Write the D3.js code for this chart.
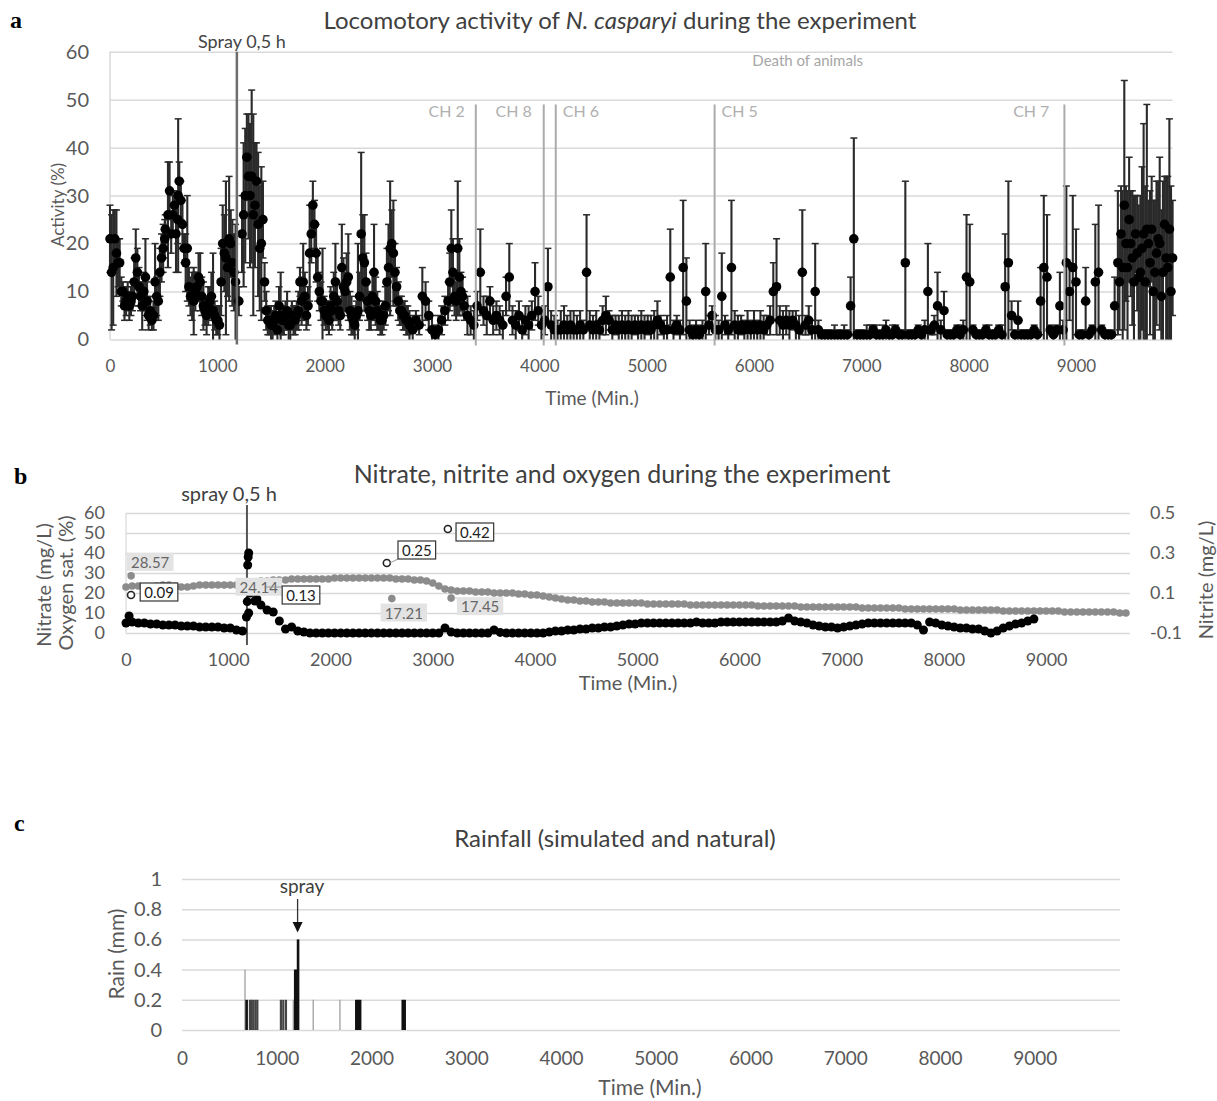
<!DOCTYPE html>
<html>
<head>
<meta charset="utf-8">
<script src="https://cdn.jsdelivr.net/npm/d3@7"></script>
<style>
  body { margin: 0; background: #fff; }
  text { font-family: Lato, "Open Sans", sans-serif; }
</style>
</head>
<body>
<div id="fig"></div>
<script>
// ---------- panel a : locomotory activity (mean + SD), sampled every 30 min ----------
const actStep = 30;
const actMean = [
  21, 15, 18, 16, 10, 8, 7, 9, 17, 11,
  7, 13, 5, 4, 12, 8, 17, 21, 26, 22,
  28, 25, 29, 19, 19, 9, 8, 11, 12, 7,
  5, 8, 6, 4, 3, 20, 17, 21, 16, 12,
  8, 22, 30, 34, 34, 28, 24, 20, 12, 4,
  3, 4, 2, 5, 4, 6, 3, 4, 5, 12,
  12, 5, 18, 28, 18, 10, 8, 5, 4, 6,
  12, 6, 15, 10, 13, 5, 3, 6, 22, 16,
  8, 5, 14, 6, 4, 5, 12, 19, 18, 11,
  6, 5, 4, 3, 2, 4, 3, 9, 8, 5,
  2, 1, 2, 4, 6, 8, 19, 9, 19, 10,
  7, 5, 4, 3, 7, 14, 6, 5, 8, 4,
  5, 4, 3, 9, 13, 4, 3, 5, 2, 4,
  3, 5, 10, 6, 3, 4, 11, 3, 2, 2,
  2, 3, 2, 3, 2, 2, 3, 2, 14, 3,
  2, 3, 2, 4, 5, 4, 2, 3, 2, 3,
  2, 3, 2, 3, 2, 3, 2, 3, 2, 3,
  4, 3, 2, 2, 13, 2, 3, 2, 15, 8,
  2, 1, 2, 1, 2, 10, 3, 5, 2, 2,
  9, 3, 2, 15, 3, 2, 3, 2, 3, 2,
  3, 2, 3, 2, 3, 4, 10, 11, 4, 3,
  4, 3, 4, 3, 2, 14, 3, 4, 2, 10,
  2, 1, 1, 1, 1, 1, 1, 1, 1, 1,
  7, 21, 1, 1, 1, 1, 1, 2, 1, 1,
  1, 2, 1, 1, 2, 1, 1, 16, 1, 1,
  1, 2, 1, 2, 10, 2, 3, 7, 2, 6,
  1, 1, 1, 2, 1, 2, 13, 12, 2, 1,
  1, 1, 2, 1, 1, 1, 2, 1, 11, 16,
  5, 1, 4, 1, 1, 1, 1, 2, 1, 8,
  15, 13, 2, 1, 2, 7, 2, 16, 10, 15,
  12, 1, 1, 8, 1, 2, 12, 14, 2, 1,
  1, 1, 7, 16, 22, 28, 15, 20, 12, 18,
  14, 22, 23, 16, 10, 18, 20, 14, 17, 23, 17
];
const actErr = [
  7, 12, 9, 5, 2, 3, 3, 3, 6, 4,
  5, 8, 3, 2, 8, 4, 5, 4, 11, 4,
  3, 5, 4, 3, 11, 4, 7, 3, 6, 5,
  4, 3, 12, 3, 4, 8, 16, 13, 9, 12,
  3, 8, 14, 13, 18, 13, 15, 16, 4, 3,
  4, 3, 3, 9, 3, 4, 3, 3, 3, 3,
  8, 3, 10, 5, 6, 4, 11, 3, 3, 4,
  8, 3, 9, 4, 9, 4, 3, 14, 17, 10,
  4, 3, 10, 4, 3, 3, 7, 14, 11, 4,
  3, 3, 3, 3, 3, 2, 2, 6, 4, 3,
  3, 2, 3, 3, 3, 4, 8, 4, 14, 4,
  3, 4, 3, 3, 3, 9, 3, 4, 3, 3,
  3, 3, 3, 4, 7, 3, 3, 3, 3, 3,
  4, 3, 6, 3, 3, 3, 8, 3, 3, 2,
  4, 4, 3, 3, 4, 3, 3, 2, 12, 3,
  3, 3, 2, 3, 4, 2, 3, 2, 3, 3,
  3, 3, 3, 2, 3, 3, 3, 2, 3, 3,
  4, 2, 2, 3, 10, 2, 2, 2, 14, 9,
  2, 2, 2, 2, 2, 10, 2, 2, 3, 2,
  9, 2, 2, 14, 3, 3, 2, 2, 3, 2,
  3, 2, 3, 3, 2, 3, 6, 10, 3, 3,
  3, 3, 2, 3, 3, 13, 2, 3, 2, 10,
  2, 1, 1, 1, 1, 2, 1, 1, 2, 1,
  6, 21, 1, 1, 1, 2, 2, 1, 2, 1,
  2, 2, 1, 2, 1, 1, 1, 17, 1, 1,
  1, 1, 1, 2, 10, 1, 2, 7, 2, 4,
  1, 1, 1, 1, 2, 2, 13, 12, 1, 1,
  1, 1, 1, 2, 1, 1, 1, 2, 11, 17,
  3, 1, 4, 1, 1, 1, 1, 1, 1, 7,
  15, 13, 1, 1, 1, 7, 2, 16, 6, 15,
  11, 1, 1, 7, 1, 1, 12, 14, 1, 1,
  1, 1, 6, 15, 10, 26, 16, 11, 18, 12,
  16, 23, 26, 15, 19, 15, 18, 19, 17, 23, 12
];
// extra readings in the busy stretches
const actExtraT    = [15, 45, 75, 105, 135, 165, 195, 225, 255, 285, 315, 345, 375, 405, 435, 465, 495, 515, 555, 585, 615, 635, 645,
                      675, 705, 735, 765, 795, 825, 855, 885, 915, 945, 975, 1005, 1035, 1065, 1095, 1125, 1155,
                      1245, 1275, 1305, 1335, 1365, 1395, 1425, 1455, 1485, 1515, 1545, 1575, 1605, 1635, 1665, 1695, 1725, 1755, 1785,
                      1815, 1845, 1875, 1905, 1935, 1965, 1995, 2025, 2055, 2085, 2115, 2145, 2175, 2205, 2235, 2265, 2295, 2325, 2355,
                      2385, 2415, 2445, 2475, 2505, 2535, 2565, 2595, 2625, 2655, 2685, 2715, 2745, 2775, 3165, 3195, 3225, 3255, 3285,
                      9405, 9435, 9465, 9495, 9525, 9555, 9585, 9615, 9645, 9675, 9705, 9735, 9765, 9795, 9825, 9855, 9885];
const actExtraMean = [14, 21, 16, 10, 7, 9, 8, 12, 14, 9, 10, 8, 6, 5, 9, 14, 19, 23, 31, 26, 22, 30, 33,
                      24, 16, 11, 9, 10, 13, 9, 6, 7, 9, 5, 4, 12, 18, 15, 20, 14,
                      26, 38, 30, 26, 33, 19, 25, 6, 4, 3, 5, 7, 4, 5, 3, 5, 4, 6, 8,
                      9, 7, 22, 24, 13, 8, 6, 5, 7, 9, 8, 5, 11, 12, 6, 4, 5, 9, 17,
                      12, 6, 9, 8, 5, 4, 7, 15, 20, 14, 8, 6, 5, 4, 12, 14, 8, 13, 9,
                      12, 15, 20, 25, 17, 22, 13, 19, 12, 20, 23, 14, 21, 9, 24, 15, 10];
const actExtraErr  = [12, 6, 5, 3, 3, 3, 3, 5, 5, 3, 4, 4, 3, 3, 4, 5, 5, 3, 6, 4, 8, 16, 4,
                      5, 6, 4, 5, 4, 5, 4, 3, 4, 5, 3, 3, 7, 8, 6, 7, 8,
                      15, 9, 15, 21, 8, 13, 8, 4, 3, 3, 3, 4, 3, 3, 3, 3, 3, 4, 5,
                      5, 4, 6, 5, 5, 4, 3, 3, 4, 5, 4, 3, 6, 6, 4, 3, 3, 5, 9,
                      6, 4, 5, 5, 3, 3, 4, 9, 7, 6, 4, 3, 3, 3, 6, 7, 4, 8, 4,
                      10, 16, 12, 13, 14, 8, 15, 17, 20, 9, 11, 15, 12, 18, 10, 19, 22];
const actYTicks = [0, 10, 20, 30, 40, 50, 60];
const timeTicks = [0, 1000, 2000, 3000, 4000, 5000, 6000, 7000, 8000, 9000];

const sprayT = 1182;
const chT = [3408, 4041, 4153, 5633, 8892];
const chLabel = ["CH 2", "CH 8", "CH 6", "CH 5", "CH 7"];

// ---------- panel b : nitrate, nitrite, oxygen ----------
const oxyStep = 60;
const oxyVal = [
  23, 23.5, 23.5, 23, 23, 23.5, 24, 24, 23.5, 23, 23, 23.5, 24, 24, 24, 24, 24, 24, 24, 24,
  24, 25, 26, 26, 26.5, 26.5, 26.5, 27, 27, 27, 27, 27, 27, 27, 27.5, 27.5, 27.5, 27.5, 27.5, 27.5,
  27.5, 27.5, 27.5, 27.5, 27, 27, 27, 26.5, 26.5, 26, 25, 23.5, 22, 21.5, 21, 21, 21, 20.5, 20.5, 20.5,
  20, 20, 20, 20, 19.5, 19.5, 19, 19, 18.5, 18, 17.5, 17, 16.5, 16.5, 16, 16, 15.5, 15.5, 15.5, 15,
  15, 15, 15, 15, 15, 14.5, 14.5, 14.5, 14.5, 14.5, 14.5, 14.5, 14, 14, 14, 14, 14, 14, 14, 14,
  14, 14, 14, 13.5, 13.5, 13.5, 13.5, 13.5, 13.5, 13.5, 13, 13, 13, 13, 13, 13, 13, 13, 13, 13,
  12.5, 12.5, 12.5, 12.5, 12.5, 12.5, 12.5, 12, 12, 12, 12, 12, 12, 12, 12, 12, 11.5, 11.5, 11.5, 11.5,
  11.5, 11.5, 11.5, 11, 11, 11, 11, 11, 11, 11, 11, 11, 11, 10.5, 10.5, 10.5, 10.5, 10.5, 10.5, 10.5,
  10.5, 10.5, 10, 10
];
const nitStep = 60;
const nitVal = [
  5, 5.5, 5, 5, 4.5, 4.5, 4, 4, 4, 3.5, 3.5, 3.5, 3, 3, 3, 3, 2.5, 2.5, 1.5, 1,
  10, 16, 14, 11.5, 10.5, 6, 2, 3, 1, 0.5, 0, 0, 0, 0, 0, 0, 0, 0, 0, 0,
  0, 0, 0, 0, 0, 0, 0, 0, 0, 0, 0, 0, 2.5, 0.5, 0, 0, 0, 0, 0, 0,
  1.5, 0.3, 0, 0, 0, 0, 0, 0, 0, 0.5, 1, 1, 1.5, 1.5, 2, 2, 2.5, 2.5, 3, 3,
  3.5, 4, 4.5, 4.5, 5, 5, 5, 5, 5, 5, 5, 5, 5, 5.5, 5, 5, 5, 5.5, 5.5, 5.5,
  5.5, 5.5, 5.5, 5.5, 5.5, 5.5, 5.5, 6, 7.5, 6, 5.5, 5, 4, 3.5, 3, 3, 2.5, 3, 3.5, 4,
  4.5, 5, 5, 5, 5, 5, 5, 5, 5, 4, 1.5, 5.5, 5, 4, 3.5, 3, 2.5, 2.5, 2, 2,
  1, 0, 1, 2.5, 3.5, 4.5, 5, 6, 7
];
const nitExtraT = [30, 1178, 1186, 1190, 1195, 1200, 1206, 1212, 1280];
const nitExtraV = [8.5, 8, 15.7, 34, 38, 40, 25, 20, 17];
const oxyLabT = [50, 1200, 2600, 3180];
const oxyLabV = [28.57, 24.14, 17.21, 17.45];
const nitriteT = [49, 1340, 2551, 3148];
const nitriteV = [0.09, 0.13, 0.25, 0.42];
const bLeftTicks = [0, 10, 20, 30, 40, 50, 60];
const bRightTicks = [-0.1, 0.1, 0.3, 0.5];

// ---------- panel c : rainfall ----------
const rainT = [665, 682, 717, 735, 753, 775, 795, 1044, 1069, 1097, 1175, 1195, 1210, 1225, 1385, 1667, 1840, 1860, 1880, 2330, 2350];
const rainV = [0.4, 0.2, 0.2, 0.2, 0.2, 0.2, 0.2, 0.2, 0.2, 0.2, 0.2, 0.4, 0.4, 0.6, 0.2, 0.2, 0.2, 0.2, 0.2, 0.2, 0.2];
const rainKind = ["light", "black", "dark", "dark", "dark", "dark", "dark", "dark", "dark", "dark", "light",
                  "black", "black", "black", "light", "light", "black", "black", "black", "black", "black"];
const rainTicks = [0, 0.2, 0.4, 0.6, 0.8, 1];

// ================= drawing =================
const svg = d3.select("#fig").append("svg")
  .attr("width", 1217).attr("height", 1101)
  .style("background", "#fff");

const tickColor = "#595959";
const gridColor = "#d9d9d9";

function gridAxis(g, scale, ticks, x0, width, pad, fs) {
  g.attr("transform", "translate(" + x0 + ",0)")
    .call(d3.axisLeft(scale).tickValues(ticks).tickSize(-width).tickPadding(pad).tickFormat(d => String(d)));
  g.select(".domain").remove();
  g.selectAll(".tick line").attr("stroke", gridColor).attr("stroke-width", 1.5);
  g.selectAll(".tick text").attr("fill", tickColor).style("font-size", fs + "px").style("font-family", "Lato");
}
function timeAxis(g, scale, y0, pad, fs) {
  g.attr("transform", "translate(0," + y0 + ")")
    .call(d3.axisBottom(scale).tickValues(timeTicks).tickSize(0).tickPadding(pad).tickFormat(d3.format("d")));
  g.select(".domain").remove();
  g.selectAll(".tick text").attr("fill", tickColor).style("font-size", fs + "px").style("font-family", "Lato");
}
function label(x, y, txt, fs, color, anchor) {
  return svg.append("text").attr("x", x).attr("y", y).text(txt)
    .style("font-size", fs + "px").attr("fill", color).attr("text-anchor", anchor || "middle");
}
function vlabel(x, y, txt, fs) {
  return svg.append("text").attr("transform", "translate(" + x + "," + y + ") rotate(-90)")
    .attr("text-anchor", "middle").attr("dominant-baseline", "central")
    .style("font-size", fs + "px").attr("fill", tickColor).text(txt);
}
function letter(x, y, txt) {
  svg.append("text").attr("x", x).attr("y", y).text(txt)
    .style("font-family", "'Liberation Serif', serif").style("font-weight", "bold").style("font-size", "24px");
}

// ---------------- panel a ----------------
const xA = d3.scaleLinear().domain([0, 9900]).range([110, 1172.6]);
const yA = d3.scaleLinear().domain([0, 60]).range([339.5, 51.7]);
gridAxis(svg.append("g"), yA, actYTicks, 110, 1062.6, 21, 20);
svg.append("line").attr("x1", 110).attr("x2", 110).attr("y1", yA(60)).attr("y2", yA(0))
  .attr("stroke", gridColor).attr("stroke-width", 1.5);
timeAxis(svg.append("g"), xA, yA(0), 20, 17);

const actPts = actMean.map((m, i) => ({ t: i * actStep, m: m, e: actErr[i] }))
  .concat(actExtraT.map((t, i) => ({ t: t, m: actExtraMean[i], e: actExtraErr[i] })));

const eb = svg.append("g").attr("stroke", "#2a2a2a").attr("stroke-width", 2.1);
actPts.forEach(d => {
  const x = xA(d.t), lo = Math.max(0, d.m - d.e), hi = d.m + d.e;
  eb.append("line").attr("x1", x).attr("x2", x).attr("y1", yA(lo)).attr("y2", yA(hi));
  eb.append("line").attr("x1", x - 3.5).attr("x2", x + 3.5).attr("y1", yA(hi)).attr("y2", yA(hi)).attr("stroke-width", 1.5);
  if (lo > 0) eb.append("line").attr("x1", x - 3.5).attr("x2", x + 3.5).attr("y1", yA(lo)).attr("y2", yA(lo)).attr("stroke-width", 1.5);
});
svg.append("g").selectAll("circle").data(actPts).join("circle")
  .attr("cx", d => xA(d.t)).attr("cy", d => yA(d.m)).attr("r", 4.8).attr("fill", "#000");

// spray and channel lines
svg.append("line").attr("x1", xA(sprayT)).attr("x2", xA(sprayT)).attr("y1", yA(60)).attr("y2", yA(0) + 5)
  .attr("stroke", "#6e6e6e").attr("stroke-width", 2.5);
label(xA(sprayT) + 5, 48, "Spray 0,5 h", 18, "#444");
const chSide = [-1, -1, 1, 1, -1];
const chGap = [11, 12, 7, 7, 15];
chT.forEach((t, i) => {
  const x = xA(t);
  svg.append("line").attr("x1", x).attr("x2", x).attr("y1", yA(49)).attr("y2", yA(0) + 6)
    .attr("stroke", "#ababab").attr("stroke-width", 2);
  label(x + chSide[i] * chGap[i], 117, chLabel[i], 16, "#b0b0b0", chSide[i] < 0 ? "end" : "start");
});
label(xA(6500), 66, "Death of animals", 15, "#a6a6a6");

const tA = svg.append("text").attr("x", 620).attr("y", 29).attr("text-anchor", "middle")
  .style("font-size", "24px").attr("fill", "#404040");
tA.append("tspan").text("Locomotory activity of ");
tA.append("tspan").style("font-style", "italic").text("N. casparyi");
tA.append("tspan").text(" during the experiment");
vlabel(57, 205, "Activity (%)", 17);
label(592, 405, "Time (Min.)", 19, tickColor);
letter(10, 28, "a");

// ---------------- panel b ----------------
const xB = d3.scaleLinear().domain([0, 9820]).range([126, 1130]);
const yB = d3.scaleLinear().domain([0, 60]).range([633, 513]);
const yB2 = d3.scaleLinear().domain([-0.1, 0.5]).range([633, 513]);
gridAxis(svg.append("g"), yB, bLeftTicks, 126, 1004, 21, 18);
svg.append("line").attr("x1", 126).attr("x2", 126).attr("y1", yB(60)).attr("y2", yB(0))
  .attr("stroke", gridColor).attr("stroke-width", 1.2);
const gR = svg.append("g").attr("transform", "translate(1130,0)")
  .call(d3.axisRight(yB2).tickValues(bRightTicks).tickSize(0).tickPadding(20).tickFormat(d => String(d)));
gR.select(".domain").remove();
gR.selectAll(".tick text").attr("fill", tickColor).style("font-size", "18px").style("font-family", "Lato");
timeAxis(svg.append("g"), xB, yB(0), 20, 18);

svg.append("line").attr("x1", xB(1183)).attr("x2", xB(1183)).attr("y1", 505).attr("y2", 645)
  .attr("stroke", "#555").attr("stroke-width", 2);
label(229, 501, "spray 0,5 h", 20, "#404040");

// nitrite (right axis)
const nitritePts = nitriteT.map((t, i) => ({ x: xB(t), y: yB2(nitriteV[i]), v: nitriteV[i] }));
svg.append("g").selectAll("circle").data(nitritePts).join("circle")
  .attr("cx", d => d.x).attr("cy", d => d.y).attr("r", 3.5)
  .attr("fill", "#fff").attr("stroke", "#222").attr("stroke-width", 1.6);

// oxygen
const oxyPts = oxyVal.map((v, i) => ({ t: i * oxyStep, v: v }))
  .concat(oxyLabT.map((t, i) => ({ t: t, v: oxyLabV[i] })));
svg.append("g").selectAll("circle").data(oxyPts).join("circle")
  .attr("cx", d => xB(d.t)).attr("cy", d => yB(d.v)).attr("r", 3.8).attr("fill", "#8c8c8c");

// nitrate
const nitPts = nitVal.map((v, i) => ({ t: i * nitStep, v: v }))
  .concat(nitExtraT.map((t, i) => ({ t: t, v: nitExtraV[i] })));
svg.append("g").selectAll("circle").data(nitPts).join("circle")
  .attr("cx", d => xB(d.t)).attr("cy", d => yB(d.v)).attr("r", 4.5).attr("fill", "#000");

// data labels
const oxyLabPos = [{ dx: 19, dy: -14 }, { dx: 10, dy: 2 }, { dx: 12, dy: 14 }, { dx: 29, dy: 8, lead: true }];
const nitLabPos = [{ dx: 28, dy: -3 }, { dx: 38, dy: 8, lead: true }, { dx: 30, dy: -13, lead: true }, { dx: 27, dy: 3 }];
function boxLabel(px, py, pos, txt, boxed) {
  const g = svg.append("g");
  const cx = px + pos.dx, cy = py + pos.dy;
  const t = g.append("text").attr("x", cx).attr("y", cy).attr("text-anchor", "middle")
    .attr("dominant-baseline", "central").style("font-size", "15px")
    .attr("fill", boxed ? "#222" : "#666").text(txt);
  const bb = t.node().getBBox();
  const r = g.insert("rect", "text").attr("x", bb.x - 4).attr("y", bb.y)
    .attr("width", bb.width + 8).attr("height", bb.height);
  if (boxed) r.attr("fill", "#fff").attr("stroke", "#333").attr("stroke-width", 1.2);
  else r.attr("fill", "#e3e3e3");
  if (pos.lead) {
    const ex = pos.dx > 0 ? bb.x - 4 : bb.x + bb.width + 4;
    const ey = Math.max(bb.y, Math.min(bb.y + bb.height, py));
    g.insert("line", "rect").attr("x1", px + 3).attr("y1", py).attr("x2", ex).attr("y2", ey)
      .attr("stroke", boxed ? "#999" : "#bbb").attr("stroke-width", 1);
  }
}
oxyLabT.forEach((t, i) => boxLabel(xB(t), yB(oxyLabV[i]), oxyLabPos[i], oxyLabV[i].toFixed(2), false));
nitritePts.forEach((d, i) => boxLabel(d.x, d.y, nitLabPos[i], d.v.toFixed(2), true));

label(622, 483, "Nitrate, nitrite and oxygen during the experiment", 25, "#404040");
vlabel(43, 585, "Nitrate (mg/L)", 20);
vlabel(65, 583, "Oxygen sat.  (%)", 20);
vlabel(1205, 580, "Nitrite  (mg/L)", 20);
label(628, 690, "Time (Min.)", 20, tickColor);
letter(14, 484, "b");

// ---------------- panel c ----------------
const xC = d3.scaleLinear().domain([0, 9900]).range([182, 1120]);
const yC = d3.scaleLinear().domain([0, 1]).range([1030, 879]);
gridAxis(svg.append("g"), yC, rainTicks, 182, 938, 20, 20);
timeAxis(svg.append("g"), xC, yC(0), 22, 19);

const rainColor = { black: "#111", dark: "#444", light: "#a6a6a6" };
const rainW = { black: 2.6, dark: 2.2, light: 1.4 };
svg.append("g").selectAll("rect").data(rainT.map((t, i) => ({ t: t, v: rainV[i], k: rainKind[i] }))).join("rect")
  .attr("x", d => xC(d.t) - rainW[d.k] / 2).attr("width", d => rainW[d.k])
  .attr("y", d => yC(d.v)).attr("height", d => yC(0) - yC(d.v))
  .attr("fill", d => rainColor[d.k]);

const ax = xC(1220);
svg.append("line").attr("x1", ax).attr("x2", ax).attr("y1", 899).attr("y2", 924)
  .attr("stroke", "#333").attr("stroke-width", 1.3);
svg.append("path").attr("d", "M" + (ax - 5) + ",922 L" + (ax + 5) + ",922 L" + ax + "," + (yC(0.6) - 7) + " Z")
  .attr("fill", "#111");
label(302, 893, "spray", 19, "#404040");

label(615, 847, "Rainfall (simulated and natural)", 24, "#404040");
vlabel(115, 954, "Rain (mm)", 21);
label(650, 1095, "Time (Min.)", 21, tickColor);
letter(14, 831, "c");
</script>
</body>
</html>
